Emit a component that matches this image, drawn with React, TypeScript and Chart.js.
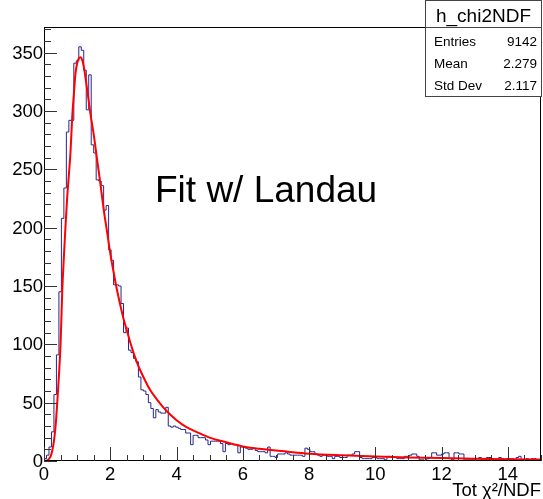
import React, { useEffect, useRef } from 'react';
import { Chart, registerables } from 'chart.js';

Chart.register(...registerables);

// ---- data ----
const X_MIN = 0;
const X_MAX = 15;
const Y_MAX = 372;
const BIN_WIDTH = 0.075;

const counts: number[] = [
  0, 2, 5, 12, 25, 57, 91, 145, 208, 234,
  282, 292, 292, 341, 343, 355, 352, 335, 301, 331,
  271, 264, 241, 240, 236, 215, 219, 181, 172, 151,
  151, 150, 135, 110, 114, 95, 93, 88, 85, 72,
  61, 60, 57, 50, 45, 37, 44, 42, 41, 41,
  46, 30, 29, 30, 29, 28, 27, 27, 24, 24,
  14, 22, 22, 20, 20, 20, 18, 14, 17, 17,
  17, 17, 15, 8, 15, 14, 15, 14, 14, 7,
  12, 12, 11, 10, 10, 11, 9, 8, 8, 8,
  7, 12, 4, 4, 3, 6, 6, 6, 7, 6,
  5, 5, 5, 5, 5, 4, 11, 10, 8, 8,
  6, 5, 4, 5, 5, 4, 4, 2, 4, 4,
  3, 3, 3, 5, 5, 6, 8, 8, 3, 2,
  2, 2, 2, 3, 3, 2, 2, 2, 1, 4,
  4, 3, 3, 2, 2, 2, 4, 4, 5, 6,
  6, 4, 1, 1, 0, 2, 3, 7, 7, 5,
  5, 6, 7, 7, 2, 1, 7, 7, 6, 6,
  1, 1, 1, 1, 2, 2, 3, 1, 1, 3,
  3, 2, 1, 1, 3, 2, 1, 2, 2, 2,
  1, 3, 4, 1, 1, 2, 1, 2, 2, 1,
];

const fitX: number[] = [
  0, 0.1, 0.2, 0.25, 0.3, 0.35, 0.4, 0.45, 0.5, 0.55,
  0.6, 0.65, 0.7, 0.75, 0.8, 0.85, 0.9, 0.95, 1.0, 1.05,
  1.1, 1.15, 1.2, 1.3, 1.4, 1.5, 1.6, 1.7, 1.8, 1.9,
  2.0, 2.1, 2.2, 2.3, 2.4, 2.5, 2.6, 2.7, 2.8, 2.9,
  3.0, 3.2, 3.4, 3.6, 3.8, 4.0, 4.3, 4.6, 5.0, 5.5,
  6.0, 6.5, 7.0, 7.5, 8, 9, 10, 11, 12, 13, 14, 15,
];
const fitY: number[] = [
  0, 0.6, 4, 9, 17, 30, 50, 73, 100, 145,
  175, 202, 226, 245, 265, 294, 314, 332, 341, 345,
  346, 344, 338, 319, 298, 280, 259, 238, 216, 197,
  178, 162, 147, 134, 122, 112, 102, 93, 85, 78,
  72, 61, 53, 46, 40, 35, 29, 25, 20, 16,
  12.5, 10.5, 9, 7.5, 6.3, 4.9, 3.8, 3.1, 2.5, 2.0, 1.6, 1.3,
];

const xMajorTicks: number[] = [0, 2, 4, 6, 8, 10, 12, 14];
const xMinorStep = 0.5;
const yMajorTicks: number[] = [0, 50, 100, 150, 200, 250, 300, 350];
const yMinorStep = 10;

const statsTitle = 'h_chi2NDF';
const statsLabels: string[] = ['Entries', 'Mean', 'Std Dev'];
const statsValues: string[] = ['9142', '2.279', '2.117'];
const xTitle = 'Tot χ²/NDF';
const annotation = 'Fit w/ Landau';

const FONT = '"Liberation Sans", Arial, Helvetica, sans-serif';

const rootStylePlugin = {
  id: 'rootStyle',
  afterDraw(chart: any) {
    const ctx: CanvasRenderingContext2D = chart.ctx;
    const { left, right, top, bottom } = chart.chartArea;
    const xs = chart.scales.x;
    const ys = chart.scales.y;
    ctx.save();

    // frame
    ctx.strokeStyle = '#000';
    ctx.lineWidth = 1;
    ctx.strokeRect(left + 0.5, top + 0.5, right - left - 1, bottom - top - 1);

    // ticks
    ctx.strokeStyle = '#333';
    ctx.beginPath();
    for (let v = X_MIN; v <= X_MAX + 1e-9; v += xMinorStep) {
      const px = Math.round(xs.getPixelForValue(v)) + 0.5;
      const major = xMajorTicks.some((t) => Math.abs(t - v) < 1e-9);
      const len = major ? 14 : 6;
      ctx.moveTo(px, bottom);
      ctx.lineTo(px, bottom - len);
    }
    for (let v = 0; v <= Y_MAX + 1e-9; v += yMinorStep) {
      const py = Math.round(ys.getPixelForValue(v)) + 0.5;
      const major = yMajorTicks.some((t) => Math.abs(t - v) < 1e-9);
      const len = major ? 13 : 7;
      ctx.moveTo(left, py);
      ctx.lineTo(left + len, py);
    }
    ctx.stroke();

    // tick labels
    ctx.fillStyle = '#000';
    ctx.font = `18.5px ${FONT}`;
    ctx.textAlign = 'center';
    ctx.textBaseline = 'top';
    xMajorTicks.forEach((t) => {
      ctx.fillText(String(t), xs.getPixelForValue(t), bottom + 5);
    });
    ctx.textAlign = 'right';
    ctx.textBaseline = 'middle';
    yMajorTicks.forEach((t) => {
      ctx.fillText(String(t), left - 1, ys.getPixelForValue(t) + 1);
    });

    // axis title
    ctx.textAlign = 'right';
    ctx.textBaseline = 'alphabetic';
    ctx.fillText(xTitle, right, 496);

    // annotation
    ctx.textAlign = 'left';
    ctx.font = `37px ${FONT}`;
    ctx.fillText(annotation, 155, 202);

    // stats box
    const bx = 425.5;
    const by = 0.5;
    const bw = 116;
    const bh = 96;
    ctx.fillStyle = '#fff';
    ctx.fillRect(bx, by, bw, bh);
    ctx.strokeStyle = '#444';
    ctx.strokeRect(bx, by, bw, bh);
    ctx.beginPath();
    ctx.moveTo(bx, top + 0.5);
    ctx.lineTo(bx + bw, top + 0.5);
    ctx.stroke();
    ctx.fillStyle = '#000';
    ctx.font = `19px ${FONT}`;
    ctx.textAlign = 'center';
    ctx.fillText(statsTitle, bx + bw / 2, 22);
    ctx.font = `13.5px ${FONT}`;
    const rowBase = [46, 68, 90];
    statsLabels.forEach((lab, i) => {
      ctx.textAlign = 'left';
      ctx.fillText(lab, 434, rowBase[i]);
      ctx.textAlign = 'right';
      ctx.fillText(statsValues[i], 537, rowBase[i]);
    });

    ctx.restore();
  },
};

export default function App() {
  const ref = useRef<HTMLCanvasElement>(null);

  useEffect(() => {
    document.body.style.margin = '0';
    const canvas = ref.current;
    if (!canvas) return;

    const histPts: { x: number; y: number }[] = [{ x: X_MIN, y: 0 }];
    counts.forEach((c, i) => histPts.push({ x: X_MIN + i * BIN_WIDTH, y: c }));
    histPts.push({ x: X_MAX, y: counts[counts.length - 1] });
    histPts.push({ x: X_MAX, y: 0 });

    const fitPts = fitX.map((x, i) => ({ x, y: fitY[i] }));

    const chart = new Chart(canvas, {
      type: 'line',
      data: {
        datasets: [
          {
            label: 'Landau fit',
            data: fitPts,
            borderColor: '#ff0000',
            borderWidth: 2,
            pointRadius: 0,
            cubicInterpolationMode: 'monotone',
            fill: false,
            order: 0,
          },
          {
            label: 'h_chi2NDF',
            data: histPts,
            borderColor: '#26268f',
            borderWidth: 1,
            pointRadius: 0,
            stepped: 'after',
            fill: false,
            order: 1,
          },
        ],
      },
      options: {
        responsive: false,
        animation: false,
        devicePixelRatio: 1,
        layout: { padding: { left: 44, top: 27, right: 2, bottom: 38 } },
        scales: {
          x: { type: 'linear', min: X_MIN, max: X_MAX, display: false },
          y: { type: 'linear', min: 0, max: Y_MAX, display: false },
        },
        plugins: {
          legend: { display: false },
          title: { display: false },
          tooltip: { enabled: false },
        },
      },
      plugins: [rootStylePlugin],
    } as any);

    return () => chart.destroy();
  }, []);

  return (
    <div style={{ width: 543, height: 499, position: 'relative', background: '#fff' }}>
      <canvas ref={ref} width={543} height={499} style={{ display: 'block' }} />
    </div>
  );
}
